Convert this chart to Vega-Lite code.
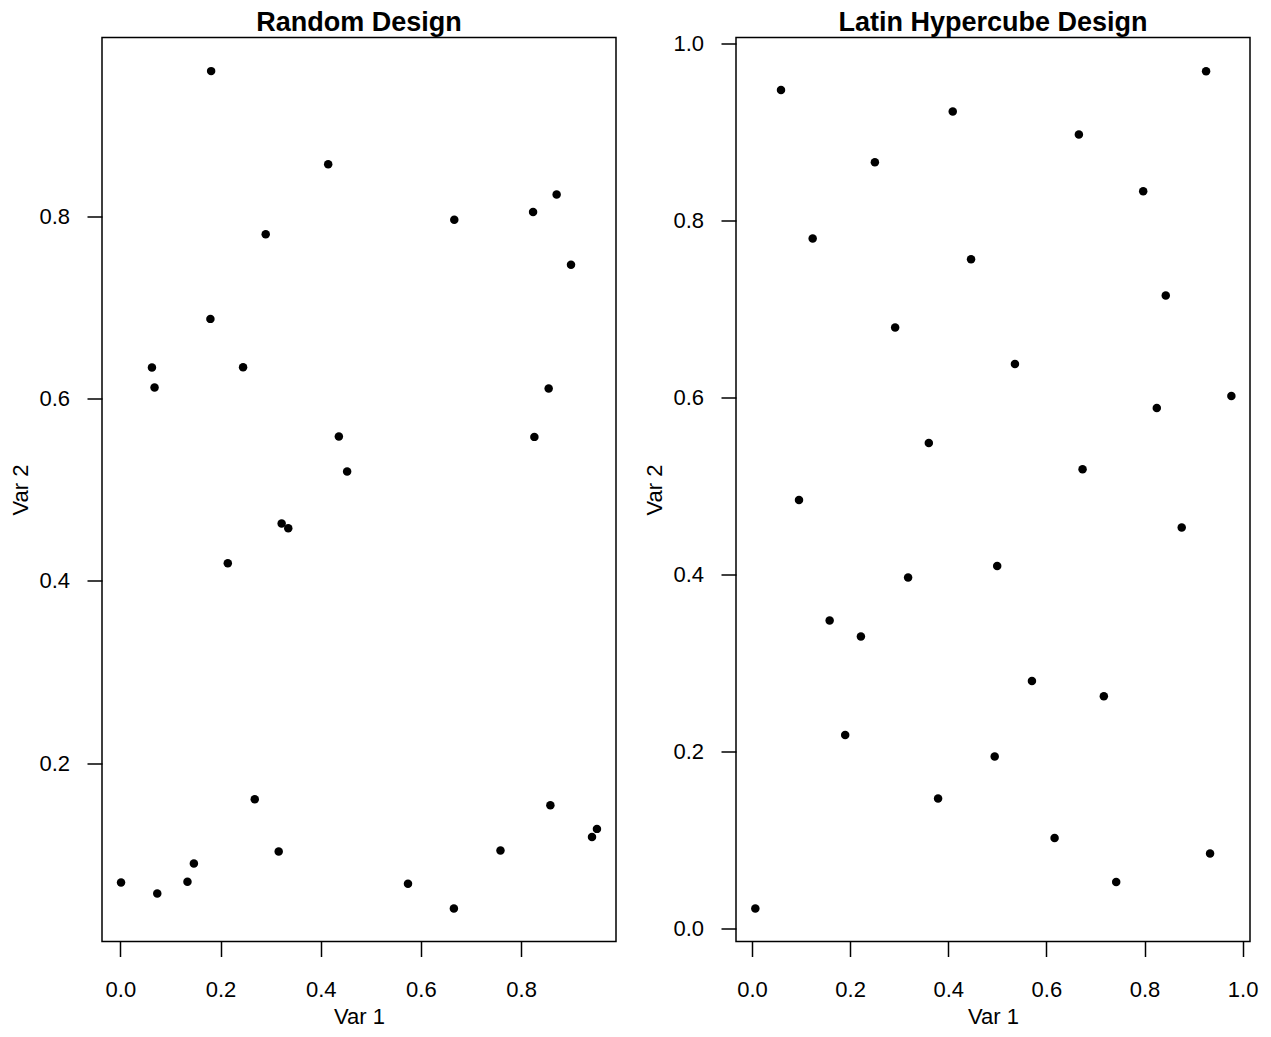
{
  "$schema": "https://vega.github.io/schema/vega-lite/v6.json",
  "padding": {"left": 8, "top": 8.5, "right": 5, "bottom": 5},
  "bounds": "flush",
  "spacing": 120,
  "config": {
    "font": "Liberation Sans",
    "view": {"stroke": "black", "strokeWidth": 1.5},
    "title": {"font": "Liberation Sans", "fontSize": 27, "fontWeight": "bold", "color": "black", "frame": "group", "anchor": "middle", "baseline": "alphabetic", "offset": 7},
    "axis": {"domain": false, "grid": false, "ticks": true, "tickColor": "black", "tickWidth": 1.5, "tickSize": 15, "labelFont": "Liberation Sans", "labelFontSize": 22, "labelColor": "black", "labelFlush": false, "labelOverlap": false, "titleFont": "Liberation Sans", "titleFontSize": 22, "titleFontWeight": "normal", "titleColor": "black", "format": ".1f"},
    "axisX": {"labelPadding": 40, "labelBaseline": "alphabetic", "titleBaseline": "alphabetic", "titleY": 82},
    "axisY": {"labelPadding": 17.5, "labelBaseline": "middle", "labelAngle": 0, "titleBaseline": "alphabetic", "titleAngle": -90, "titleAlign": "center", "titleX": -75, "titleY": 452}
  },
  "datasets": {
    "random": [
      {"x": 0.1812, "y": 0.9595}, {"x": 0.4149, "y": 0.8574}, {"x": 0.2902, "y": 0.7806},
      {"x": 0.1798, "y": 0.6876}, {"x": 0.0631, "y": 0.6343}, {"x": 0.2450, "y": 0.6346},
      {"x": 0.0683, "y": 0.6123}, {"x": 0.4362, "y": 0.5586}, {"x": 0.4527, "y": 0.5202},
      {"x": 0.8709, "y": 0.8241}, {"x": 0.8239, "y": 0.8050}, {"x": 0.6666, "y": 0.7963},
      {"x": 0.8996, "y": 0.7469}, {"x": 0.8550, "y": 0.6112}, {"x": 0.8265, "y": 0.5581},
      {"x": 0.3220, "y": 0.4631}, {"x": 0.3352, "y": 0.4579}, {"x": 0.2145, "y": 0.4195},
      {"x": 0.2683, "y": 0.1605}, {"x": 0.3161, "y": 0.1031}, {"x": 0.1468, "y": 0.0900},
      {"x": 0.0014, "y": 0.0691}, {"x": 0.1340, "y": 0.0698}, {"x": 0.0737, "y": 0.0570},
      {"x": 0.8584, "y": 0.1539}, {"x": 0.9514, "y": 0.1279}, {"x": 0.9415, "y": 0.1191},
      {"x": 0.7588, "y": 0.1042}, {"x": 0.5742, "y": 0.0676}, {"x": 0.6658, "y": 0.0406}
    ],
    "lhs": [
      {"x": 0.0590, "y": 0.9476}, {"x": 0.4091, "y": 0.9232}, {"x": 0.2504, "y": 0.8659},
      {"x": 0.1236, "y": 0.7798}, {"x": 0.4464, "y": 0.7564}, {"x": 0.2917, "y": 0.6792},
      {"x": 0.3603, "y": 0.5489}, {"x": 0.9255, "y": 0.9687}, {"x": 0.6662, "y": 0.8972},
      {"x": 0.7973, "y": 0.8332}, {"x": 0.8433, "y": 0.7154}, {"x": 0.5359, "y": 0.6381},
      {"x": 0.9770, "y": 0.6020}, {"x": 0.8250, "y": 0.5884}, {"x": 0.6737, "y": 0.5192},
      {"x": 0.0957, "y": 0.4845}, {"x": 0.3181, "y": 0.3969}, {"x": 0.4997, "y": 0.4100},
      {"x": 0.1582, "y": 0.3483}, {"x": 0.2219, "y": 0.3302}, {"x": 0.1899, "y": 0.2191},
      {"x": 0.4946, "y": 0.1948}, {"x": 0.3792, "y": 0.1473}, {"x": 0.0067, "y": 0.0230},
      {"x": 0.8758, "y": 0.4534}, {"x": 0.5705, "y": 0.2801}, {"x": 0.7171, "y": 0.2628},
      {"x": 0.6167, "y": 0.1028}, {"x": 0.9336, "y": 0.0852}, {"x": 0.7423, "y": 0.0531}
    ]
  },
  "hconcat": [
    {
      "title": {"text": "Random Design", "offset": 0.2},
      "width": 514,
      "height": 904,
      "data": {"name": "random"},
      "mark": {"type": "circle", "size": 72, "color": "black", "opacity": 1},
      "encoding": {
        "x": {"field": "x", "type": "quantitative", "title": "Var 1",
              "scale": {"domain": [-0.0366, 0.9894], "nice": false, "zero": false},
              "axis": {"values": [0, 0.2, 0.4, 0.6, 0.8]}},
        "y": {"field": "y", "type": "quantitative", "title": "Var 2",
              "scale": {"domain": [0.0043, 0.9964], "nice": false, "zero": false},
              "axis": {"values": [0.2, 0.4, 0.6, 0.8]}}
      }
    },
    {
      "title": {"text": "Latin Hypercube Design", "offset": -4.8},
      "width": 514,
      "height": 904,
      "data": {"name": "lhs"},
      "mark": {"type": "circle", "size": 72, "color": "black", "opacity": 1},
      "encoding": {
        "x": {"field": "x", "type": "quantitative", "title": "Var 1",
              "scale": {"domain": [-0.0327, 1.015], "nice": false, "zero": false},
              "axis": {"values": [0, 0.2, 0.4, 0.6, 0.8, 1.0]}},
        "y": {"field": "y", "type": "quantitative", "title": "Var 2",
              "scale": {"domain": [-0.0142, 1.0068], "nice": false, "zero": false},
              "axis": {"values": [0, 0.2, 0.4, 0.6, 0.8, 1.0]}}
      }
    }
  ]
}
